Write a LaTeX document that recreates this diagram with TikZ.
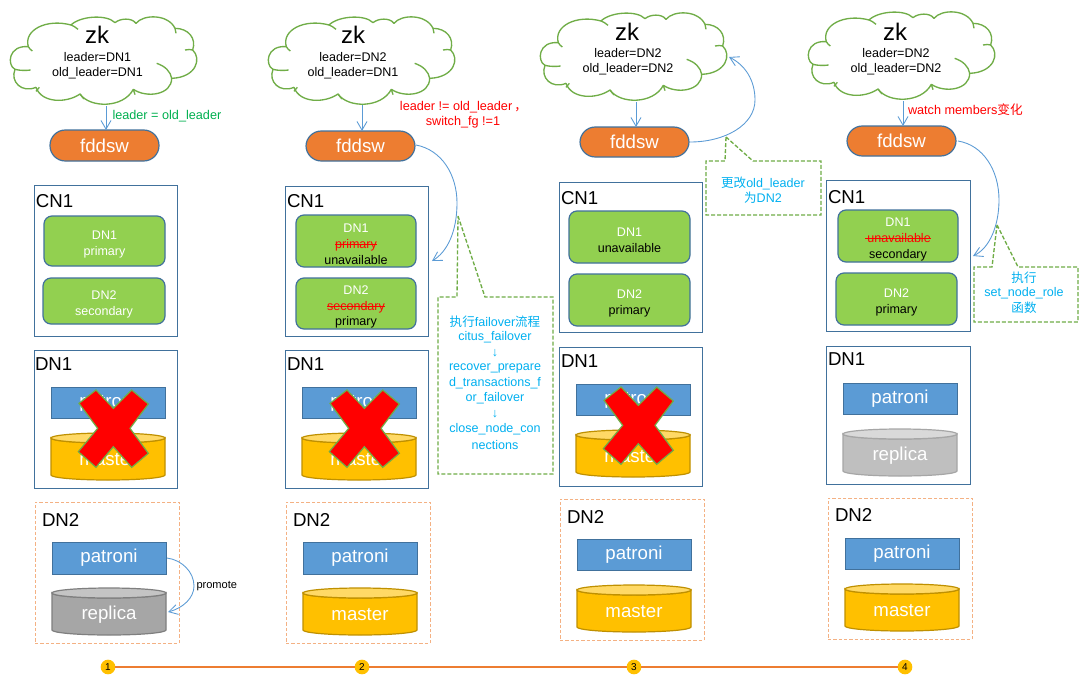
\documentclass[tikz,border=0pt]{standalone}
\usepackage{fontspec}
\setmainfont{Liberation Sans}
\newfontfamily\cjk{Noto Sans CJK SC}
\usetikzlibrary{arrows.meta}
\definecolor{cblue}{HTML}{5B9BD5}
\definecolor{cedge}{HTML}{41719C}
\definecolor{cgreen}{HTML}{92D050}
\definecolor{corange}{HTML}{ED7D31}
\definecolor{cyell}{HTML}{FFC000}
\definecolor{cyelltop}{HTML}{FFD966}
\definecolor{cyelledge}{HTML}{BF9000}
\definecolor{cgrey}{HTML}{A6A6A6}
\definecolor{cgreytop}{HTML}{C4C4C4}
\definecolor{cgreyedge}{HTML}{7F7F7F}
\definecolor{clgrey}{HTML}{BFBFBF}
\definecolor{clgreytop}{HTML}{D9D9D9}
\definecolor{clgreyedge}{HTML}{A6A6A6}
\definecolor{cloudg}{HTML}{70AD47}
\definecolor{ccyan}{HTML}{00B0F0}
\definecolor{ctgreen}{HTML}{00B050}
\definecolor{cdash}{HTML}{F4B183}
\newcommand\fs[1]{\fontsize{#1}{#1}\selectfont}
\newcommand\strk[1]{\sbox0{#1}\rlap{\rule[.27em]{\wd0}{.7pt}}\box0}
\tikzset{
  base/.style={inner sep=0pt,outer sep=0pt,align=center},
  bigtxt/.style={base,font=\fs{14},anchor=west},
  cloudtxt/.style={base,font=\fs{9.4}},
  fd/.style={base,draw=cedge,line width=.9pt,fill=corange,rounded corners=11.5pt,text=white,font=\fs{14}},
  cnbox/.style={base,draw=cedge,line width=.75pt,fill=white},
  dnbox/.style={base,draw=cedge,line width=.75pt,fill=white},
  dashbox/.style={base,draw=cdash,line width=.75pt,dash pattern=on 2.5pt off 1.5pt,fill=white},
  gbox/.style={base,draw=cedge,line width=.9pt,fill=cgreen,rounded corners=6pt},
  gtxt/.style={base,text=white,font=\fs{9.4}},
  pat/.style={base,draw=cedge,line width=.75pt,fill=cblue,text=white,font=\fs{14}},
  cyltxt/.style={base,text=white,font=\fs{14}},
  conn/.style={draw=cblue,line width=.65pt,-{Straight Barb[length=6.5pt,width=7.5pt,line width=.65pt]}},
  callout/.style={draw=cloudg,line width=1pt,dash pattern=on 3pt off 1.5pt,fill=white},
  ctxt/.style={base,text=ccyan,font=\fs{9.4}},
  step dot/.style={base,circle,fill=cyell,minimum size=11pt,font=\fs{7.5}},
  tline/.style={draw=corange,line width=1.5pt},
}
% box{style}{name}{x1}{y1}{x2}{y2}{text}
\newcommand\pxbox[7]{%
  \pgfmathsetmacro\bw{(#5-#3)*.75}\pgfmathsetmacro\bh{(#6-#4)*.75}%
  \node[#1,minimum width=\bw pt,minimum height=\bh pt] (#2) at ({(#3+#5)/2},{(#4+#6)/2}) {#7};}
% green box{name}{x1}{y1}{x2}{y2}{text}
\newcommand\gbx[6]{%
  \pxbox{gbox}{#1}{#2}{#3}{#4}{#5}{}%
  \node[gtxt] (#1t) at ([yshift=-2.6pt]#1.center) {#6};}
% cylinder{prefix}{x1}{y1}{x2}{y2}{name}{text}
\newcommand\cyl[7]{%
  \pgfmathsetmacro\cmx{(#2+#4)/2}\pgfmathsetmacro\crx{(#4-#2)/2}%
  \path[fill=#1,draw=#1edge,line width=.9pt] (#2,#3+5) -- (#2,#5-5) arc[start angle=180,end angle=360,x radius=\crx,y radius=-5] -- (#4,#3+5) arc[start angle=0,end angle=180,x radius=\crx,y radius=5] -- cycle;
  \path[fill=#1top,draw=#1edge,line width=.9pt] (\cmx,#3+5) ellipse[x radius=\crx,y radius=5];
  \node[cyltxt] (#6) at (\cmx,#3+27) {#7};}
% cloud{dx}{dy}
\newcommand\cloudshape[2]{%
 \begin{scope}[shift={(#1,#2)},x=.25pt,y=-.25pt]
  \path[fill=white,draw=cloudg,line width=1pt,line join=round]
   (85,140) .. controls (70,90) and (140,55) .. (213,75)
   .. controls (240,48) and (320,42) .. (345,68)
   .. controls (360,55) and (395,52) .. (408,70)
   .. controls (430,42) and (505,42) .. (525,85)
   .. controls (565,85) and (590,115) .. (578,150)
   .. controls (605,175) and (590,232) .. (515,235)
   .. controls (515,285) and (440,295) .. (400,268)
   .. controls (370,325) and (270,325) .. (240,282)
   .. controls (200,310) and (125,310) .. (108,262)
   .. controls (65,280) and (30,245) .. (45,208)
   .. controls (20,195) and (25,135) .. (85,140) -- cycle;
  \path[draw=cloudg,line width=1pt]
   (45,208) .. controls (60,212) and (78,212) .. (92,210)
   (470,190) .. controls (495,198) and (512,215) .. (515,235)
   (555,150) .. controls (565,148) and (572,148) .. (578,150)
   (525,85) .. controls (527,90) and (528,95) .. (528,100)
   (213,75) .. controls (220,78) and (228,82) .. (234,88)
   (240,282) .. controls (244,288) and (248,292) .. (252,297)
   (400,268) .. controls (402,274) and (404,278) .. (405,284)
   (118,262) .. controls (115,266) and (112,270) .. (108,274)
   (85,140) .. controls (88,145) and (92,150) .. (97,153);
 \end{scope}}
% cross{dx}{dy}
\newcommand\crossshape[2]{%
 \begin{scope}[shift={(#1,#2)},x=.25pt,y=-.25pt]
  \path[fill=red,draw=cloudg,line width=.9pt,line join=miter]
   (288,150) -- (340,205) -- (395,150) -- (445,192) -- (390,265) -- (445,340) -- (395,382) -- (340,320) -- (288,382) -- (235,335) -- (293,265) -- (237,190) -- cycle;
 \end{scope}}
\begin{document}
\begin{tikzpicture}[x=.75pt,y=-.75pt]
\useasboundingbox[fill=white] (0,0) rectangle (1085,689);

% ---------- column 1
\cloudshape{0}{0}
\node[base,font=\fs{18}] (zk1) at (97,35) {zk};
\node[cloudtxt] (la1) at (97.5,57) {leader=DN1};
\node[cloudtxt] (lb1) at (97.5,73) {old\_leader=DN1};
\coordinate (cb1) at (106,106);
\pxbox{fd}{fd1}{50}{130}{159}{161}{fddsw}
\draw[conn] (cb1) -- (cb1 |- fd1.north);
\node[base,text=ctgreen,font=\fs{9.5},anchor=west] (al1) at (112.5,116.5) {leader = old\_leader};
\pxbox{cnbox}{cn1}{34}{185}{177}{336}{}
\node[bigtxt] (cnt1) at (36,201.5) {CN1};
\gbx{ga1}{44}{216}{165}{266}{DN1\\[3pt]primary}
\gbx{gb1}{43}{278}{165}{324}{DN2\\[3pt]secondary}
\pxbox{dnbox}{dn1}{34}{350}{177}{488}{}
\node[bigtxt] (dnt1) at (35,364) {DN1};
\pxbox{pat}{pa1}{51}{387}{165}{418}{patroni}
\cyl{cyell}{51}{433}{165}{480}{ma1}{master}
\crossshape{0}{340}
\pxbox{dashbox}{ds1}{35}{502}{179}{643}{}
\node[bigtxt] (dst1) at (42,520) {DN2};
\pxbox{pat}{pb1}{52}{542}{166}{574}{patroni}
\cyl{cgrey}{52}{588}{166}{635}{mb1}{replica}
\coordinate (pe1) at (168,612);
\draw[conn] (pb1.east) ++(1,0) .. controls (182,560) and (194,572) .. (194,586) .. controls (194,598) and (183,608) .. (pe1);
\node[base,font=\fs{8.3},anchor=west] (pr1) at (196.5,586) {promote};

% ---------- column 2
\cloudshape{258}{0}
\node[base,font=\fs{18}] (zk2) at (353,35) {zk};
\node[cloudtxt] (la2) at (353,57) {leader=DN2};
\node[cloudtxt] (lb2) at (353,73) {old\_leader=DN1};
\coordinate (cb2) at (362,105);
\pxbox{fd}{fd2}{306}{131}{415}{161}{fddsw}
\draw[conn] (cb2) -- (cb2 |- fd2.north);
\node[base,text=red,font=\fs{9.5}] (al2) at (463.5,107) {leader != old\_leader\,{\cjk ，}};
\node[base,text=red,font=\fs{9.5}] (al2b) at (463,122) {switch\_fg !=1};
\pxbox{cnbox}{cn2}{285}{186}{428}{336}{}
\node[bigtxt] (cnt2) at (287,201.5) {CN1};
\gbx{ga2}{296}{215}{416}{267}{DN1\\[2.4pt]\textcolor{red}{\strk{primary}}\\[2.4pt]\textcolor{black}{unavailable}}
\gbx{gb2}{296}{278}{416}{329}{DN2\\[2.4pt]\textcolor{red}{\strk{secondary}}\\[2.4pt]\textcolor{black}{primary}}
\pxbox{dnbox}{dn2}{285}{350}{428}{488}{}
\node[bigtxt] (dnt2) at (287,364) {DN1};
\pxbox{pat}{pa2}{302}{387}{416}{418}{patroni}
\cyl{cyell}{302}{433}{416}{480}{ma2}{master}
\crossshape{251}{340}
\pxbox{dashbox}{ds2}{286}{502}{430}{643}{}
\node[bigtxt] (dst2) at (293,520) {DN2};
\pxbox{pat}{pb2}{303}{542}{417}{574}{patroni}
\cyl{cyell}{303}{588}{417}{635}{mb2}{master}
\coordinate (pe2) at (432,261);
\draw[conn] (fd2.east) ++(1,-1) .. controls (442,150) and (457,175) .. (457,203) .. controls (457,232) and (447,252) .. (pe2);
\coordinate (ct2) at (458,216);
\path[callout] (ct2) -- (485,297) -- (553,297) -- (553,474) -- (438,474) -- (438,297) -- (457,297) -- cycle;
\node[ctxt] (t2a) at (495,322) {{\cjk 执行}failover{\cjk 流程}};
\node[ctxt] (t2b) at (495,337.5) {citus\_failover};
\node[ctxt] (t2c) at (495,353) {↓};
\node[ctxt] (t2d) at (495,368) {recover\_prepare};
\node[ctxt] (t2e) at (495,383) {d\_transactions\_f};
\node[ctxt] (t2f) at (495,398.5) {or\_failover};
\node[ctxt] (t2g) at (495,414) {↓};
\node[ctxt] (t2h) at (495,429.5) {close\_node\_con};
\node[ctxt] (t2i) at (495,445) {nections};

% ---------- column 3
\cloudshape{530}{-4}
\node[base,font=\fs{18}] (zk3) at (627,32) {zk};
\node[cloudtxt] (la3) at (628,53) {leader=DN2};
\node[cloudtxt] (lb3) at (628,69.5) {old\_leader=DN2};
\coordinate (cb3) at (636,102);
\pxbox{fd}{fd3}{580}{127}{689}{157}{fddsw}
\draw[conn] (cb3) -- (cb3 |- fd3.north);
\pxbox{cnbox}{cn3}{559}{182}{702}{332}{}
\node[bigtxt] (cnt3) at (561,198) {CN1};
\gbx{ga3}{569}{211}{690}{263}{DN1\\[3pt]\textcolor{black}{unavailable}}
\gbx{gb3}{569}{274}{690}{326}{DN2\\[3pt]\textcolor{black}{primary}}
\pxbox{dnbox}{dn3}{559}{347}{702}{486}{}
\node[bigtxt] (dnt3) at (561,361) {DN1};
\pxbox{pat}{pa3}{576}{384}{690}{415}{patroni}
\cyl{cyell}{576}{430}{690}{477}{ma3}{master}
\crossshape{525}{337}
\pxbox{dashbox}{ds3}{560}{499}{704}{640}{}
\node[bigtxt] (dst3) at (567,516.5) {DN2};
\pxbox{pat}{pb3}{577}{539}{691}{570}{patroni}
\cyl{cyell}{577}{585}{691}{632}{mb3}{master}
\coordinate (pe3) at (729,57);
\draw[conn] (fd3.east) ++(1,0) .. controls (725,142) and (755,125) .. (755,100) .. controls (755,80) and (745,65) .. (pe3);
\coordinate (ct3) at (726,137);
\path[callout] (ct3) -- (753,161) -- (821,161) -- (821,215) -- (706,215) -- (706,161) -- (725,161) -- cycle;
\node[ctxt] (t3a) at (763,183) {{\cjk 更改}old\_leader};
\node[ctxt] (t3b) at (763,198) {{\cjk 为}DN2};

% ---------- column 4
\cloudshape{798}{-5}
\node[base,font=\fs{18}] (zk4) at (895,32) {zk};
\node[cloudtxt] (la4) at (896,53) {leader=DN2};
\node[cloudtxt] (lb4) at (896,69.5) {old\_leader=DN2};
\coordinate (cb4) at (903,101);
\pxbox{fd}{fd4}{847}{126}{956}{156}{fddsw}
\draw[conn] (cb4) -- (cb4 |- fd4.north);
\node[base,text=red,font=\fs{9.5},anchor=west] (al4) at (908,109.5) {watch members{\cjk 变化}};
\pxbox{cnbox}{cn4}{826}{180}{970}{331}{}
\node[bigtxt] (cnt4) at (828,197) {CN1};
\gbx{ga4}{838}{210}{958}{262}{DN1\\[2.4pt]\textcolor{red}{\strk{\,unavailable}}\\[2.4pt]\textcolor{black}{secondary}}
\gbx{gb4}{836}{273}{957}{325}{DN2\\[3pt]\textcolor{black}{primary}}
\pxbox{dnbox}{dn4}{826}{346}{970}{484}{}
\node[bigtxt] (dnt4) at (828,359) {DN1};
\pxbox{pat}{pa4}{843}{383}{957}{414}{patroni}
\cyl{clgrey}{843}{429}{957}{476}{ma4}{replica}
\pxbox{dashbox}{ds4}{828}{498}{972}{639}{}
\node[bigtxt] (dst4) at (835,515) {DN2};
\pxbox{pat}{pb4}{845}{538}{959}{569}{patroni}
\cyl{cyell}{845}{584}{959}{631}{mb4}{master}
\coordinate (pe4) at (973,256);
\draw[conn] (fd4.east) ++(2,-0) .. controls (983,145) and (999,170) .. (999,200) .. controls (999,225) and (990,248) .. (pe4);
\coordinate (ct4) at (997,225);
\path[callout] (ct4) -- (1018,267) -- (1078,267) -- (1078,322) -- (974,322) -- (974,267) -- (992,267) -- cycle;
\node[ctxt] (t4a) at (1024,278) {{\cjk 执行}};
\node[ctxt] (t4b) at (1024,293) {set\_node\_role};
\node[ctxt] (t4c) at (1024,308) {{\cjk 函数}};

% ---------- timeline
\node[step dot] (s1) at (108,667) {1};
\node[step dot] (s2) at (362,667) {2};
\node[step dot] (s3) at (634,667) {3};
\node[step dot] (s4) at (905,667) {4};
\draw[tline] (s1) -- (s2);
\draw[tline] (s2) -- (s3);
\draw[tline] (s3) -- (s4);
\end{tikzpicture}
\end{document}
